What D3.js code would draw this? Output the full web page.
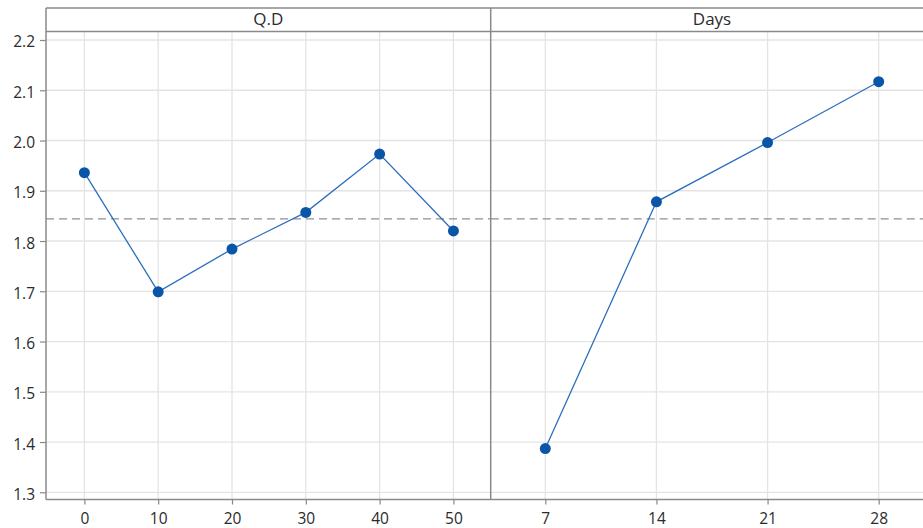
<!DOCTYPE html>
<html>
<head>
<meta charset="utf-8">
<script src="https://cdn.jsdelivr.net/npm/d3@7/dist/d3.min.js"></script>
<style>
  html, body { margin: 0; padding: 0; background: #fff; }
  svg text { font-family: "Open Sans", "Noto Sans", sans-serif; fill: #2b2b2b; }
</style>
</head>
<body>
<svg id="chart" width="923" height="528"></svg>
<script>
// Main effects: mean response by factor level
const qdLevels = [0, 10, 20, 30, 40, 50];
const qdMeans = [1.936, 1.699, 1.784, 1.857, 1.973, 1.820];
const dayLevels = [7, 14, 21, 28];
const dayMeans = [1.387, 1.878, 1.996, 2.117];
const yTicks = [1.3, 1.4, 1.5, 1.6, 1.7, 1.8, 1.9, 2.0, 2.1, 2.2];
const grandMean = 1.844;
const panelTitles = ["Q.D", "Days"];

const svg = d3.select("#chart");
const W = 923;
const frameTop = 8, stripH = 23.5, frameBottom = 499.5, frameLeft = 46, divider = 490.7;
const tickFont = 15.5;

const y = d3.scaleLinear().domain([1.3, 2.2]).range([492.3, 40]);

const panels = [
  { title: panelTitles[0], x0: frameLeft, x1: divider, levels: qdLevels, means: qdMeans,
    x: d3.scaleLinear().domain([-5.2, 55.05]).range([frameLeft, divider]) },
  { title: panelTitles[1], x0: divider, x1: 933.3, levels: dayLevels, means: dayMeans,
    x: d3.scaleLinear().domain([3.56, 31.44]).range([divider, 933.3]) }
];

const defs = svg.append("defs");

panels.forEach((p, i) => {
  defs.append("clipPath").attr("id", "clip" + i)
    .append("rect").attr("x", p.x0).attr("y", frameTop + stripH)
    .attr("width", Math.min(p.x1, W) - p.x0).attr("height", frameBottom - frameTop - stripH);

  const g = svg.append("g");
  const body = g.append("g").attr("clip-path", `url(#clip${i})`);

  // grid lines
  body.selectAll("line.h").data(yTicks).join("line").attr("class", "h")
    .attr("x1", p.x0).attr("x2", p.x1)
    .attr("y1", d => y(d)).attr("y2", d => y(d))
    .attr("stroke", "#e4e4e4").attr("stroke-width", 1.3);
  body.selectAll("line.v").data(p.levels).join("line").attr("class", "v")
    .attr("x1", d => p.x(d)).attr("x2", d => p.x(d))
    .attr("y1", frameTop + stripH).attr("y2", frameBottom)
    .attr("stroke", "#e4e4e4").attr("stroke-width", 1.3);

  // reference line at the overall mean
  body.append("line")
    .attr("x1", p.x0).attr("x2", p.x1)
    .attr("y1", y(grandMean)).attr("y2", y(grandMean))
    .attr("stroke", "#8f8f8f").attr("stroke-width", 1.3)
    .attr("stroke-dasharray", "8,5");

  // mean line and points
  const pts = p.levels.map((l, k) => [l, p.means[k]]);
  body.append("path")
    .datum(pts)
    .attr("fill", "none")
    .attr("stroke", "#2c6fbd").attr("stroke-width", 1.3)
    .attr("d", d3.line().x(d => p.x(d[0])).y(d => y(d[1])));
  body.selectAll("circle").data(pts).join("circle")
    .attr("cx", d => p.x(d[0])).attr("cy", d => y(d[1]))
    .attr("r", 5.5).attr("fill", "#0a55a8");

  // x axis
  const xAxis = d3.axisBottom(p.x).tickValues(p.levels).tickSize(5).tickPadding(8);
  const ax = g.append("g").attr("transform", `translate(0,${frameBottom})`).call(xAxis);
  ax.select(".domain").remove();
  ax.selectAll(".tick line").attr("stroke", "#888").attr("stroke-width", 1.2);
  ax.selectAll(".tick text").attr("font-size", tickFont).attr("fill", "#2b2b2b")
    .style("font-family", '"Open Sans", "Noto Sans", sans-serif').style("font-weight", 500);

  // strip header
  g.append("text")
    .attr("x", (p.x0 + p.x1) / 2).attr("y", frameTop + stripH / 2 + 1)
    .attr("text-anchor", "middle").attr("dominant-baseline", "middle")
    .attr("font-size", 17).text(p.title);
});

// y axis
const yAxis = d3.axisLeft(y).tickValues(yTicks).tickFormat(d3.format(".1f")).tickSize(6).tickPadding(5);
const ay = svg.append("g").attr("transform", `translate(${frameLeft},0)`).call(yAxis);
ay.select(".domain").remove();
ay.selectAll(".tick line").attr("stroke", "#888").attr("stroke-width", 1.2);
ay.selectAll(".tick text").attr("font-size", tickFont).attr("fill", "#2b2b2b").attr("dy", "0.45em")
  .style("font-family", '"Open Sans", "Noto Sans", sans-serif').style("font-weight", 500);

// frame: strip borders, panel divider, axis lines
const frame = svg.append("g").attr("stroke", "#8a8a8a").attr("stroke-width", 1.5).attr("fill", "none");
frame.append("line").attr("x1", frameLeft).attr("x2", W).attr("y1", frameTop).attr("y2", frameTop);
frame.append("line").attr("x1", frameLeft).attr("x2", W).attr("y1", frameTop + stripH).attr("y2", frameTop + stripH);
frame.append("line").attr("x1", frameLeft).attr("x2", frameLeft).attr("y1", frameTop).attr("y2", frameBottom);
frame.append("line").attr("x1", divider).attr("x2", divider).attr("y1", frameTop).attr("y2", frameBottom);
frame.append("line").attr("x1", frameLeft).attr("x2", W).attr("y1", frameBottom).attr("y2", frameBottom);
</script>
</body>
</html>
